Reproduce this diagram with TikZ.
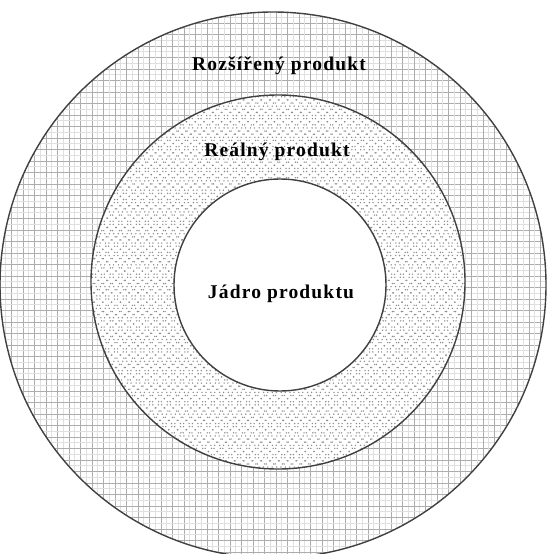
\documentclass[tikz,border=0pt]{standalone}
\usepackage{fontspec}
\setmainfont{Liberation Serif}
\begin{document}
\begin{tikzpicture}[x=1pt,y=-1pt,
ring/.style={draw=black!75,line width=1.4pt},
label/.style={font=\bfseries\fontsize{19.5}{22}\selectfont\addfontfeature{LetterSpace=6},inner sep=0pt},
major/.style={draw=black!32,line width=0.8pt},
minor/.style={draw=black!12,line width=0.6pt},
dots/.style={draw=black!45,line width=1.1pt,dash pattern=on 1.1pt off 3.3pt}]
\useasboundingbox (0,0) rectangle (547,554);
\clip (0,0) rectangle (547,554);
\coordinate (outer) at (273,285);
\coordinate (middle) at (278,282);
\coordinate (inner) at (280,285);
% outer ring: square grid
\begin{scope}
\clip (outer) circle (273);
\foreach \k in {0,...,48} {
  \draw[minor] (\k*11.5+5.75,0) -- ++(0,560);
  \draw[minor] (0,\k*11.5+5.75) -- ++(560,0);
  \draw[major] (\k*11.5,0) -- ++(0,560);
  \draw[major] (0,\k*11.5) -- ++(560,0);
}
\end{scope}
% middle ring: dotted cross hatch
\fill[white] (middle) circle (187);
\begin{scope}
\clip (middle) circle (187);
\foreach \k in {0,...,125} {
  \draw[dots] (\k*8.8-560,0) -- ++(560,560);
  \draw[dots] (\k*8.8,0) -- ++(-560,560);
}
\end{scope}
% core
\fill[white] (inner) circle (106);
\draw[ring] (outer) circle (273);
\draw[ring] (middle) circle (187);
\draw[ring] (inner) circle (106);
\node[label] (ext) at (279,66) {Rozšířený produkt};
\node[label] (real) at (277,152) {Reálný produkt};
\node[label] (core) at (281,294) {Jádro produktu};
\end{tikzpicture}
\end{document}
